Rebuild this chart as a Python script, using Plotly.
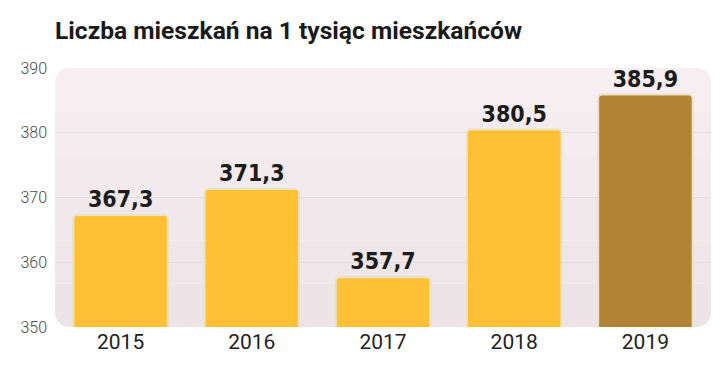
import plotly.graph_objects as go

years = ["2015", "2016", "2017", "2018", "2019"]
values = [367.3, 371.3, 357.7, 380.5, 385.9]
bar_colors = ["#FEC034", "#FEC034", "#FEC034", "#FEC034", "#B08434"]
title_text = "Liczba mieszkań na 1 tysiąc mieszkańców"
y_ticks = [350, 360, 370, 380, 390]

W, H = 712, 373  # page body adds an 8px offset
ML, MR, MT, MB = 47, 9, 60, 54

fig = go.Figure()
fig.add_trace(go.Bar(
    x=years, y=values,
    marker=dict(color=bar_colors, line=dict(color="#ebe1c6", width=2), cornerradius=4),
    texttemplate="%{y:.1f}", textposition="outside",
    textfont=dict(family="DejaVu Sans Condensed, sans-serif", size=23, color="#1c1c1c", weight="bold"),
    cliponaxis=False, hoverinfo="skip",
))

# rounded plot background with vertical gradient (bands)
pw, ph = W - ML - MR, H - MT - MB
r = 16
rx, ry = r / pw, r / ph
top_c = (247, 239, 241)
bot_c = (235, 227, 229)
N = 6
for i in range(N):
    y0, y1 = i / N, (i + 1) / N
    t = (i + 0.5) / N
    c = tuple(round(bot_c[k] + (top_c[k] - bot_c[k]) * t) for k in range(3))
    col = "rgb(%d,%d,%d)" % c
    if i == 0:
        path = (f"M {rx},0 L {1-rx},0 Q 1,0 1,{ry} L 1,{y1} L 0,{y1} L 0,{ry} Q 0,0 {rx},0 Z")
    elif i == N - 1:
        path = (f"M 0,{y0} L 1,{y0} L 1,{1-ry} Q 1,1 {1-rx},1 L {rx},1 Q 0,1 0,{1-ry} Z")
    else:
        path = f"M 0,{y0} L 1,{y0} L 1,{y1} L 0,{y1} Z"
    fig.add_shape(type="path", path=path, xref="paper", yref="paper",
                  fillcolor=col, line=dict(width=0), layer="below")

fig.update_layout(
    width=W, height=H,
    margin=dict(l=ML, r=MR, t=MT, b=MB),
    paper_bgcolor="white", plot_bgcolor="rgba(0,0,0,0)",
    separators=", ",
    bargap=0.28,
    showlegend=False,
    title=dict(text=title_text, x=0, xref="paper", xanchor="left", y=1 - 22 / H, yanchor="middle",
               font=dict(family="Roboto, sans-serif", size=24.6, color="#1a1a1a", weight="bold")),
    xaxis=dict(showgrid=False, showline=False, ticks="", zeroline=False,
               tickfont=dict(family="Roboto, sans-serif", size=21, color="#222222")),
    yaxis=dict(range=[350, 390], tickvals=y_ticks, showgrid=True, gridcolor="#e6dcdf", gridwidth=1,
               zeroline=False, showline=False, ticks="",
               tickfont=dict(family="Roboto, sans-serif", size=16, color="#4a4a4a", weight=300),
               ticklabelstandoff=7),
)
fig.write_html("out.html")
